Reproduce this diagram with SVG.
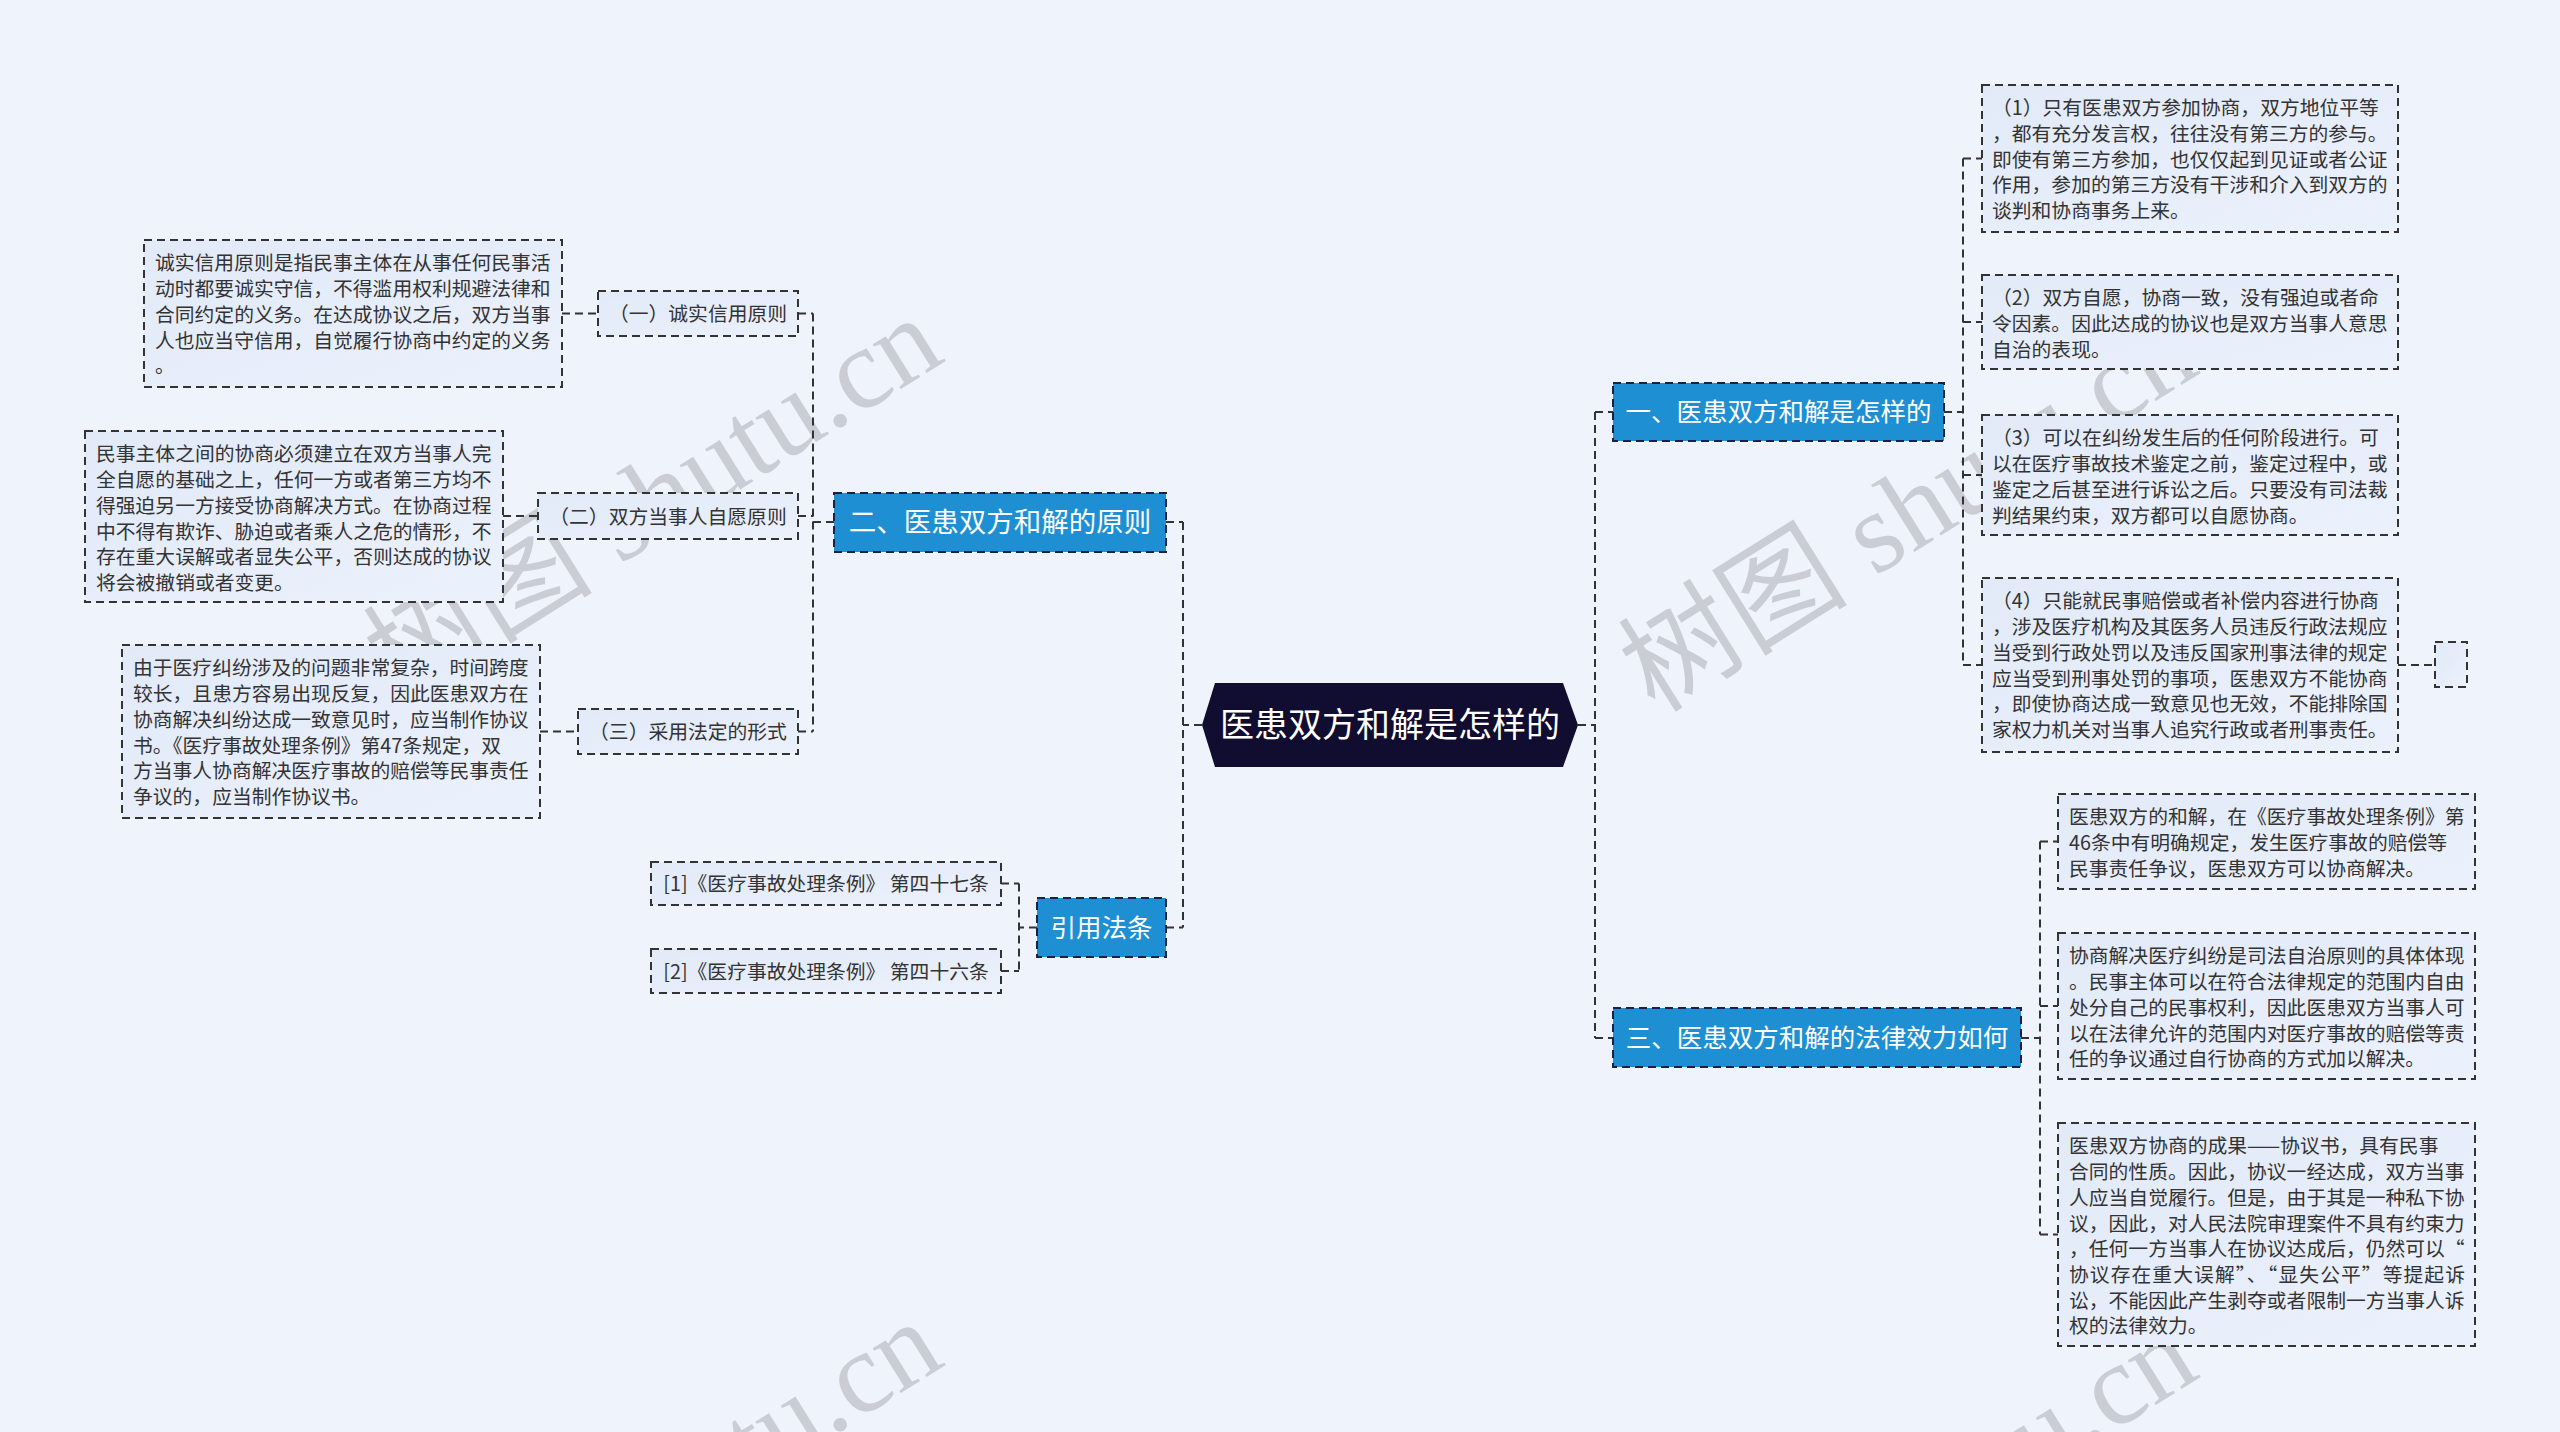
<svg xmlns="http://www.w3.org/2000/svg" width="2560" height="1432" viewBox="0 0 2560 1432">
<defs>
<linearGradient id="bg" x1="0" y1="0" x2="1" y2="1">
<stop offset="0" stop-color="#e2eaf8"/>
<stop offset="1" stop-color="#ebf1fc"/>
</linearGradient>
<style>
.t{font-family:"Noto Sans CJK SC","Noto Sans",sans-serif;font-size:19.8px;fill:#333333}
.tb{font-family:"Noto Sans CJK SC","Noto Sans",sans-serif;font-size:25.5px;fill:#ffffff}
.tr{font-family:"Noto Sans CJK SC","Noto Sans",sans-serif;font-size:34px;fill:#ffffff}
.box{fill:url(#bg);stroke:#333333;stroke-width:2;stroke-dasharray:8 5}
.br{fill:#1f8fd3;stroke:#1a2142;stroke-width:2;stroke-dasharray:8 5}
.c{fill:none;stroke:#333333;stroke-width:2;stroke-dasharray:8 5}
.wm{font-family:"Liberation Serif","Noto Sans CJK SC",serif;font-size:115px;fill:#888888;opacity:0.34}
</style>
</defs>
<rect x="0" y="0" width="2560" height="1432" fill="#eef3fc"/>

<g id="watermarks">
<text class="wm" x="400" y="702" transform="rotate(-32 400 702)">树图 shutu.cn</text>
<text class="wm" x="1655" y="714" transform="rotate(-32 1655 714)">树图 shutu.cn</text>
<text class="wm" x="400" y="1706" transform="rotate(-32 400 1706)">树图 shutu.cn</text>
<text class="wm" x="1655" y="1718" transform="rotate(-32 1655 1718)">树图 shutu.cn</text>
</g>

<g id="connectors">
<path class="c" d="M1202 725H1183M1183 522V927.5M1166 522H1183M1166 927.5H1183"/>
<path class="c" d="M1578 725H1595M1595 412V1038M1595 412H1613M1595 1038H1613"/>
<path class="c" d="M1944 412H1963M1963 158.5V665M1963 158.5H1982M1963 322H1982M1963 475H1982M1963 665H1982"/>
<path class="c" d="M2398 665H2435"/>
<path class="c" d="M2021 1038H2040M2040 841.5V1234.5M2040 841.5H2058M2040 1006H2058M2040 1234.5H2058"/>
<path class="c" d="M834 522H813M813 313.5V731.5M798 313.5H813M798 516H813M798 731.5H813"/>
<path class="c" d="M562 313.5H598M503 516H538M540 731.5H578"/>
<path class="c" d="M1037 927.5H1019M1019 883.5V971M1001 883.5H1019M1001 971H1019"/>
</g>

<g id="root">
<polygon points="1202,725 1215,683 1563,683 1578,725 1563,767 1215,767" fill="#100d30"/>
<text class="tr" x="1390" y="737" text-anchor="middle">医患双方和解是怎样的</text>
</g>

<g id="branch1">
<rect class="br" x="1613" y="383" width="331" height="58"/>
<text class="tb" x="1778.5" y="421" text-anchor="middle">一、医患双方和解是怎样的</text>
</g>
<g id="b1n1">
<rect class="box" x="1982" y="85" width="416" height="147"/>
<text class="t" x="1992" y="115.3">（1）只有医患双方参加协商，双方地位平等</text>
<text class="t" x="1992" y="141">，都有充分发言权，往往没有第三方的参与。</text>
<text class="t" x="1992" y="166.7">即使有第三方参加，也仅仅起到见证或者公证</text>
<text class="t" x="1992" y="192.4">作用，参加的第三方没有干涉和介入到双方的</text>
<text class="t" x="1992" y="218.1">谈判和协商事务上来。</text>
</g>
<g id="b1n2">
<rect class="box" x="1982" y="275" width="416" height="94"/>
<text class="t" x="1992" y="305.4">（2）双方自愿，协商一致，没有强迫或者命</text>
<text class="t" x="1992" y="331">令因素。因此达成的协议也是双方当事人意思</text>
<text class="t" x="1992" y="356.8">自治的表现。</text>
</g>
<g id="b1n3">
<rect class="box" x="1982" y="415" width="416" height="120"/>
<text class="t" x="1992" y="445.4">（3）可以在纠纷发生后的任何阶段进行。可</text>
<text class="t" x="1992" y="471">以在医疗事故技术鉴定之前，鉴定过程中，或</text>
<text class="t" x="1992" y="496.8">鉴定之后甚至进行诉讼之后。只要没有司法裁</text>
<text class="t" x="1992" y="522.5">判结果约束，双方都可以自愿协商。</text>
</g>
<g id="b1n4">
<rect class="box" x="1982" y="578" width="416" height="174"/>
<text class="t" x="1992" y="608.4">（4）只能就民事赔偿或者补偿内容进行协商</text>
<text class="t" x="1992" y="634">，涉及医疗机构及其医务人员违反行政法规应</text>
<text class="t" x="1992" y="659.8">当受到行政处罚以及违反国家刑事法律的规定</text>
<text class="t" x="1992" y="685.5">应当受到刑事处罚的事项，医患双方不能协商</text>
<text class="t" x="1992" y="711.2">，即使协商达成一致意见也无效，不能排除国</text>
<text class="t" x="1992" y="736.9">家权力机关对当事人追究行政或者刑事责任。</text>
</g>
<g id="b1n4e">
<rect class="box" x="2435" y="642" width="32" height="45"/>
</g>

<g id="branch3">
<rect class="br" x="1613" y="1008" width="408" height="59"/>
<text class="tb" x="1817" y="1046.5" text-anchor="middle">三、医患双方和解的法律效力如何</text>
</g>
<g id="b3n1">
<rect class="box" x="2058" y="794" width="417" height="95"/>
<text class="t" x="2069" y="824.4">医患双方的和解，在《医疗事故处理条例》第</text>
<text class="t" x="2069" y="850">46条中有明确规定，发生医疗事故的赔偿等</text>
<text class="t" x="2069" y="875.8">民事责任争议，医患双方可以协商解决。</text>
</g>
<g id="b3n2">
<rect class="box" x="2058" y="933" width="417" height="146"/>
<text class="t" x="2069" y="963.4">协商解决医疗纠纷是司法自治原则的具体体现</text>
<text class="t" x="2069" y="989">。民事主体可以在符合法律规定的范围内自由</text>
<text class="t" x="2069" y="1014.8">处分自己的民事权利，因此医患双方当事人可</text>
<text class="t" x="2069" y="1040.5">以在法律允许的范围内对医疗事故的赔偿等责</text>
<text class="t" x="2069" y="1066.2">任的争议通过自行协商的方式加以解决。</text>
</g>
<g id="b3n3">
<rect class="box" x="2058" y="1123" width="417" height="223"/>
<text class="t" x="2069" y="1153.4">医患双方协商的成果——协议书，具有民事</text>
<text class="t" x="2069" y="1179.1">合同的性质。因此，协议一经达成，双方当事</text>
<text class="t" x="2069" y="1204.8">人应当自觉履行。但是，由于其是一种私下协</text>
<text class="t" x="2069" y="1230.5">议，因此，对人民法院审理案件不具有约束力</text>
<text class="t" x="2069" y="1256.2">，任何一方当事人在协议达成后，仍然可以“</text>
<text class="t" x="2069" y="1281.9" textLength="396" lengthAdjust="spacing">协议存在重大误解”、“显失公平”等提起诉</text>
<text class="t" x="2069" y="1307.6">讼，不能因此产生剥夺或者限制一方当事人诉</text>
<text class="t" x="2069" y="1333.3">权的法律效力。</text>
</g>

<g id="branch2">
<rect class="br" x="834" y="493" width="332" height="59"/>
<text class="tb" x="1000" y="532" text-anchor="middle" style="font-size:27.5px">二、医患双方和解的原则</text>
</g>
<g id="b2s1">
<rect class="box" x="598" y="291" width="200" height="45"/>
<text class="t" x="698" y="321" text-anchor="middle">（一）诚实信用原则</text>
</g>
<g id="b2s1d">
<rect class="box" x="144" y="240" width="418" height="147"/>
<text class="t" x="155" y="270.4">诚实信用原则是指民事主体在从事任何民事活</text>
<text class="t" x="155" y="296.1">动时都要诚实守信，不得滥用权利规避法律和</text>
<text class="t" x="155" y="321.8">合同约定的义务。在达成协议之后，双方当事</text>
<text class="t" x="155" y="347.5">人也应当守信用，自觉履行协商中约定的义务</text>
<text class="t" x="155" y="373.2">。</text>
</g>
<g id="b2s2">
<rect class="box" x="538" y="493" width="260" height="46"/>
<text class="t" x="668" y="523.5" text-anchor="middle">（二）双方当事人自愿原则</text>
</g>
<g id="b2s2d">
<rect class="box" x="85" y="431" width="418" height="171"/>
<text class="t" x="96" y="461.4">民事主体之间的协商必须建立在双方当事人完</text>
<text class="t" x="96" y="487.1">全自愿的基础之上，任何一方或者第三方均不</text>
<text class="t" x="96" y="512.8">得强迫另一方接受协商解决方式。在协商过程</text>
<text class="t" x="96" y="538.5">中不得有欺诈、胁迫或者乘人之危的情形，不</text>
<text class="t" x="96" y="564.2">存在重大误解或者显失公平，否则达成的协议</text>
<text class="t" x="96" y="589.9">将会被撤销或者变更。</text>
</g>
<g id="b2s3">
<rect class="box" x="578" y="709" width="220" height="45"/>
<text class="t" x="688" y="739" text-anchor="middle">（三）采用法定的形式</text>
</g>
<g id="b2s3d">
<rect class="box" x="122" y="645" width="418" height="173"/>
<text class="t" x="133" y="675.4">由于医疗纠纷涉及的问题非常复杂，时间跨度</text>
<text class="t" x="133" y="701.1">较长，且患方容易出现反复，因此医患双方在</text>
<text class="t" x="133" y="726.8">协商解决纠纷达成一致意见时，应当制作协议</text>
<text class="t" x="133" y="752.5">书。《医疗事故处理条例》第47条规定，双</text>
<text class="t" x="133" y="778.2">方当事人协商解决医疗事故的赔偿等民事责任</text>
<text class="t" x="133" y="803.9">争议的，应当制作协议书。</text>
</g>

<g id="branch4">
<rect class="br" x="1037" y="898" width="129" height="59"/>
<text class="tb" x="1101.5" y="936.5" text-anchor="middle">引用法条</text>
</g>
<g id="b4n1">
<rect class="box" x="651" y="862" width="350" height="43"/>
<text class="t" x="826" y="891" text-anchor="middle">[1]《医疗事故处理条例》 第四十七条</text>
</g>
<g id="b4n2">
<rect class="box" x="651" y="949" width="350" height="44"/>
<text class="t" x="826" y="978.5" text-anchor="middle">[2]《医疗事故处理条例》 第四十六条</text>
</g>
</svg>
